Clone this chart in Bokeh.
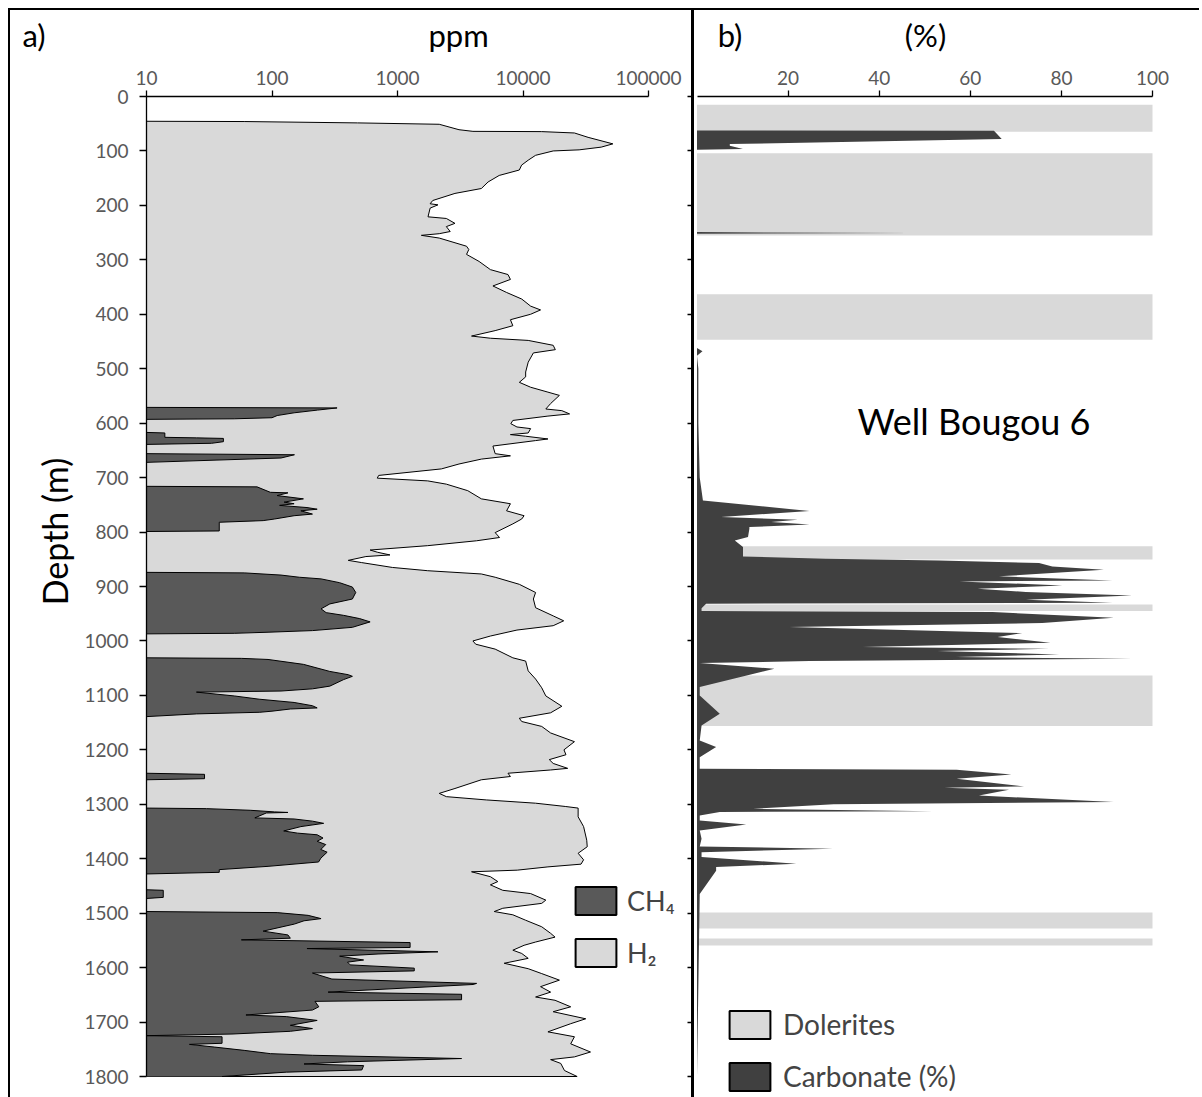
import math
from bokeh.plotting import figure
from bokeh.models import (Range1d, LinearAxis, LogAxis, FixedTicker, Label, Legend, LinearScale,
                          LegendItem, PrintfTickFormatter, ColumnDataSource, CustomLabelingPolicy)
from bokeh.layouts import row
from bokeh.embed import file_html
from bokeh.resources import INLINE

# ---------------- data ----------------
h2_depth = [45.5, 46, 48.5, 51, 61, 64, 64.5, 67, 75, 87, 93, 98, 100, 108, 117, 126, 135, 145, 157, 169,
            178, 191, 197, 199, 205, 221, 224, 233, 239, 248, 252, 255, 260, 275, 281, 290, 303, 318, 327,
            336, 348, 360, 372, 385, 392, 400, 410, 421, 430, 440, 444, 448, 457, 465, 471, 488, 506, 515,
            525, 534, 543, 549, 564, 574, 577, 583, 587, 595, 601, 607, 610, 618, 621, 624, 629, 632, 642,
            656, 660, 666, 675, 684, 696, 701, 706, 712, 724, 739, 748, 761, 770, 776, 785, 801, 810, 816,
            825, 833, 837, 842, 845, 852, 856, 865, 871, 877, 883, 896, 911, 923, 939, 954, 963, 972, 980,
            991, 1000, 1006, 1015, 1031, 1037, 1055, 1070, 1086, 1101, 1120,
            1132, 1142, 1148, 1157, 1169, 1185, 1200, 1209, 1218, 1225, 1234, 1237, 1243, 1249, 1255, 1271,
            1280, 1286, 1292, 1298, 1304, 1307, 1323, 1341, 1366, 1378, 1390, 1402, 1410, 1415, 1421, 1424,
            1433, 1442, 1448, 1458, 1464, 1476, 1482, 1491, 1497, 1503, 1513, 1525, 1537, 1544, 1553, 1559,
            1568, 1574, 1583, 1592, 1602, 1611, 1623, 1635, 1645, 1654, 1660, 1672, 1681, 1694, 1703, 1718,
            1727, 1740, 1755, 1764, 1769, 1776, 1789, 1800, 1800]
h2_ppm = [10, 60, 480, 2150, 3090, 3990, 14100, 25700, 33000, 52000, 42000, 28000, 17400, 12600, 11000,
          9750, 9350, 6460, 5270, 4660, 2870, 1910, 1820, 2100, 1820, 1750, 2450, 2870, 2450, 2630, 2150,
          1550, 2150, 3550, 3700, 3550, 4470, 5500, 7590, 7940, 5760, 7410, 9770, 11500, 13800, 11500, 7940,
          8300, 6000, 3890, 5500, 11000, 17400, 18100, 12100, 11000, 10500, 10500,
          9350, 11500, 15800, 19500, 16600, 15200, 20400, 23500, 15800, 8300, 8000, 8950, 11500, 11000,
          7940, 10500, 15800, 12600, 5760, 6000, 7940, 4660, 3090, 2240, 708, 690, 1740, 2450, 3630, 4660,
          7940, 7400, 10200, 9770, 8300, 6000, 6500, 4270, 1740, 605, 690, 870, 560, 405, 515, 910, 1740,
          4660, 6000, 9350, 12600, 12100, 12600, 17400, 21100, 17400, 8950, 5500, 3990, 4200, 6000, 8300,
          10500, 11000, 12600, 14100, 15200, 20400,
          16600, 9350, 9770, 14100, 16600, 25700, 21200, 22000, 16200, 17400, 22700, 16600, 7590, 7940,
          4660, 2870, 2150, 2450, 5100, 12600, 21700, 27500, 27500, 30400, 32200, 32500, 27500, 30400,
          29000, 15800, 9000, 3890, 5500, 6300, 5500, 6900, 11500, 15200, 14100, 6900, 5900, 8300, 10500,
          14100, 16600, 18000, 12600, 10200, 8300, 9770, 11000, 7080, 11000, 14100, 19500, 13800, 16600,
          12600, 18000, 24000, 17400, 31600, 24000, 15800, 25700, 24000, 34500, 25700, 16600, 20000, 21400,
          27000, 10]

ch4_depth = [0, 571, 572, 576, 581, 586, 590, 592, 593,
             617, 618, 626, 627, 628, 634, 637, 639,
             656, 658, 664, 672,
             716, 717, 727, 728, 733, 739, 745, 748, 751, 755, 758, 761, 767, 770, 776, 779, 782, 798, 799,
             874, 875, 879, 883, 886, 893, 901, 911, 923, 932, 941, 948, 953, 959, 965, 975, 981, 984, 986, 987,
             1031, 1032, 1034, 1043, 1056, 1062, 1065, 1071, 1083, 1088, 1092, 1094, 1101, 1107, 1113, 1119,
             1123, 1125, 1129, 1131, 1134, 1139,
             1243, 1245, 1253, 1255,
             1307, 1308, 1311, 1314, 1315, 1316, 1325, 1327, 1331, 1335, 1341, 1349, 1353, 1356, 1362, 1368,
             1374, 1383, 1388, 1399, 1406, 1414, 1420, 1425, 1428,
             1457, 1458, 1471, 1473,
             1497, 1499, 1504, 1510, 1514, 1520, 1533, 1540, 1546, 1549, 1554, 1563, 1565, 1571, 1575, 1579,
             1586, 1590, 1595, 1601, 1606, 1610, 1621, 1629, 1631, 1645, 1649, 1659, 1662, 1672, 1678, 1687,
             1690, 1697, 1706, 1712, 1717, 1722, 1725,
             1727, 1739, 1741, 1746, 1752, 1758, 1761, 1767, 1773, 1777, 1780, 1788, 1792, 1800]
ch4_ppm = [10, 10, 330, 230, 150, 110, 100, 50, 10,
           10, 14, 14, 25, 41, 41, 33, 10,
           10, 151, 118, 10,
           10, 76, 97, 134, 110, 178, 125, 150, 115, 190, 229, 170, 210, 150, 105, 85, 38, 38, 10,
           10, 60, 118, 165, 246, 346, 437, 465, 437, 289, 246, 270, 372, 500, 605, 437, 210, 93, 50, 10,
           10, 57, 93, 178, 289, 405, 437, 372, 289, 210, 118, 25, 50, 79, 150, 210,
           229, 140, 100, 80, 25, 10,
           10, 29, 29, 10,
           10, 30, 67, 105, 134, 90, 73, 150, 210, 258, 170, 124, 160, 229, 255, 229,
           268, 245, 275, 245, 235, 93, 38, 38, 10,
           10, 13.6, 13.6, 10,
           10, 110, 194, 246, 180, 151, 85, 134, 140, 57, 1260, 1260, 190, 2100, 700, 346,
           537, 400, 420, 1360, 1360, 210, 300, 4270, 4000, 280, 3240, 3240, 220, 236, 210, 62,
           130, 229, 140, 210, 140, 48, 10,
           40, 40, 22, 35, 60, 97, 210, 3240, 400, 180, 537, 520, 130, 40]

dol_top = [15.3, 104.4, 363.2, 826.3, 932.9, 1063.3, 1498.8, 1546.5]
dol_bottom = [64.7, 255.2, 446.9, 850.2, 945.1, 1156.4, 1528.2, 1559.4]

carb_depth = [0, 62.5, 63, 78, 87.3, 90.4, 96.5, 97.7,
              249, 250.9, 252,
              462, 468, 476,
              500, 600, 700, 742,
              761.4, 772.4, 777.3, 781.6, 785.9, 790.8, 793.9, 809.2, 815.3, 827.6, 844.7, 849, 852.1, 857,
              863.1, 869.2, 881.4, 888.8, 890.6, 898, 904.1, 910.2, 916.4, 924.3, 929.8, 931.7, 940, 945,
              947, 957.4, 967.2, 974.5, 985.5, 992.9, 1003.3, 1011.3, 1014.3, 1018.6, 1024.7, 1029.6, 1032.7,
              1037, 1040.7, 1051.1, 1084.8, 1100, 1133.8, 1155.2, 1182.7, 1195, 1213.4, 1234.8,
              1236.6, 1245.2, 1253.2, 1267.2, 1269.7, 1273.4, 1283.8, 1296, 1300, 1308.3, 1312.6, 1314, 1320.5,
              1329.7, 1337, 1348.1, 1363.4, 1377.5, 1381.7, 1387.9, 1397, 1409.3, 1415.4, 1422, 1465, 1800]
carb_pct = [0, 0, 65.2, 66.9, 7.2, 7.2, 10.1, 0,
            0, 47, 0,
            0, 1.2, 0,
            0.3, 0.3, 0.6, 1.3,
            24.7, 5.3, 22.1, 16.3, 24.7, 11.5, 11.5, 11.2, 8.3, 10.1, 10.1, 28.3, 53.2, 75.1,
            78, 89.3, 66.3, 91.2, 57.6, 80.2, 61.6, 72.2, 95.5, 72.2, 91.2, 2, 1, 1,
            64.9, 91.5, 75.8, 20.3, 71.4, 66, 77.6, 36.4, 77.3, 52.8, 79.5, 56.8, 95.5,
            24.7, 0.6, 17, 0.6, 0.6, 5, 1, 0.6, 4.2, 0.6, 0.6,
            57, 69, 57, 71.8, 54.3, 68.5, 61.9, 91.5, 30, 12.3, 51.7, 5, 0.6,
            0.6, 10.8, 0.6, 1, 0.6, 29.8, 1, 1, 21.8, 4.2, 4.2, 0.6, 0]

ppm_ticks = [10, 100, 1000, 10000, 100000]
pct_ticks = [20, 40, 60, 80, 100]
depth_ticks = list(range(0, 1801, 100))

# ---------------- styling / geometry ----------------
FONT = "Lato"
TICK_COLOR = "#595959"
H2_COLOR = "#d9d9d9"
CH4_COLOR = "#595959"
DOL_COLOR = "#d9d9d9"
CARB_COLOR = "#404040"
NAN = float("nan")

CANVAS_H = 1087
A_W, B_W = 684, 505
AXIS_OFFSET = 136          # px from canvas left to the depth axis of panel a
TOP = 86                   # px from canvas top to depth 0
PX_PER_DECADE = 125.5
X_START = 10 ** (1 - AXIS_OFFSET / PX_PER_DECADE)
X_END = 10 ** (1 + (A_W - AXIS_OFFSET) / PX_PER_DECADE)
PX_PER_M = 980 / 1800.0
DEPTH_START = -TOP / PX_PER_M
DEPTH_END = (CANVAS_H - TOP) / PX_PER_M
PX_PER_PCT = 4.555
B_X0 = -2.5 / PX_PER_PCT
B_X1 = B_X0 + B_W / PX_PER_PCT
DEPTH_TITLE_LOC = 10 ** (1 - 63 / PX_PER_DECADE)   # x where the "Depth (m)" text axis sits
TITLE_ROW_LOC = -32 / PX_PER_M                      # depth where the title-row text axes sit

# title-like texts placed as tick labels of extra axes (px from canvas left / depth)
A_LAB = {23.5: "a)", 448: "ppm"}
B_LAB = {35.5: "b)", 231: "(%)"}
DEPTH_LAB = {799: "Depth (m)"}


def style_axis(ax, tick_out=6, standoff=6):
    ax.axis_line_color = "black"
    ax.axis_line_width = 1.3
    ax.major_tick_line_color = "black"
    ax.major_tick_line_width = 1.3
    ax.major_tick_out = tick_out
    ax.major_tick_in = 0
    ax.minor_tick_line_color = None
    ax.major_label_text_color = TICK_COLOR
    ax.major_label_text_font = FONT
    ax.major_label_text_font_size = "19px"
    ax.major_label_standoff = standoff


def text_axis(labels, size, standoff, **kw):
    ticks = sorted(labels)
    ax = LinearAxis(ticker=FixedTicker(ticks=ticks, minor_ticks=[]),
                    major_label_overrides=labels, bounds=(ticks[0], ticks[-1]), **kw)
    ax.axis_line_color = None
    ax.major_tick_line_color = None
    ax.minor_tick_line_color = None
    ax.major_tick_out = 0
    ax.major_tick_in = 0
    ax.major_label_text_color = "black"
    ax.major_label_text_font = FONT
    ax.major_label_text_font_size = size
    ax.major_label_standoff = standoff
    return ax


# ---------------- panel a ----------------
pa = figure(width=A_W, height=CANVAS_H, x_axis_type="log", x_axis_location=None,
            y_axis_location=None,
            x_range=Range1d(X_START, X_END), y_range=Range1d(DEPTH_END, DEPTH_START),
            output_backend="svg", toolbar_location=None,
            min_border_left=0, min_border_right=0, min_border_top=0,
            min_border_bottom=0, styles={"border-right": "3px solid black"})
pa.outline_line_color = None
pa.grid.visible = False
pa.extra_x_ranges = {"lab": Range1d(0, A_W)}
pa.extra_x_scales = {"lab": LinearScale()}

xa = LogAxis(ticker=FixedTicker(ticks=ppm_ticks, minor_ticks=[]),
             formatter=PrintfTickFormatter(format="%d"), bounds=(10, 100000), fixed_location=0)
style_axis(xa, 6, 6)
pa.add_layout(xa, "above")

ya = LinearAxis(ticker=FixedTicker(ticks=depth_ticks, minor_ticks=[]), bounds=(0, 1800),
                fixed_location=10)
style_axis(ya, 7, 11)
pa.add_layout(ya, "left")

pa.add_layout(text_axis(A_LAB, "31px", 11, x_range_name="lab", fixed_location=TITLE_ROW_LOC), "above")
pa.add_layout(text_axis(DEPTH_LAB, "34px", 8, major_label_orientation="parallel",
                        fixed_location=DEPTH_TITLE_LOC), "left")

ra = LinearAxis(ticker=FixedTicker(ticks=depth_ticks, minor_ticks=[]), bounds=(0, 1800))
ra.axis_line_color = None
ra.major_tick_in = 7
ra.major_tick_out = 0
ra.major_tick_line_color = "black"
ra.major_tick_line_width = 1.3
ra.minor_tick_line_color = None
ra.major_label_text_font_size = "0px"
ra.major_label_standoff = 0
ra.major_label_policy = CustomLabelingPolicy(
    code="for (const i of indices) { indices.unset(i) }\nreturn indices")
pa.add_layout(ra, "right")

h2_src = ColumnDataSource(dict(depth=h2_depth, ppm=h2_ppm))
ch4_src = ColumnDataSource(dict(depth=ch4_depth, ppm=ch4_ppm))
pa.harea(x1=10, x2="ppm", y="depth", source=h2_src, fill_color=H2_COLOR)
pa.line(x="ppm", y="depth", source=h2_src, line_color="black", line_width=1)
pa.harea(x1=10, x2="ppm", y="depth", source=ch4_src, fill_color=CH4_COLOR)
pa.line(x="ppm", y="depth", source=ch4_src, line_color="black", line_width=1)

r_ch4 = pa.quad(left=[NAN], right=[NAN], top=[NAN], bottom=[NAN], fill_color=CH4_COLOR,
                line_color="black", line_width=2)
r_h2 = pa.quad(left=[NAN], right=[NAN], top=[NAN], bottom=[NAN], fill_color=H2_COLOR,
               line_color="black", line_width=2)
leg_a = Legend(items=[LegendItem(label="CH\u2084", renderers=[r_ch4]),
                      LegendItem(label="H\u2082", renderers=[r_h2])],
               location=(560, 127), glyph_width=51, glyph_height=35, label_height=28,
               spacing=17, padding=0, margin=0, label_standoff=6,
               border_line_color=None, background_fill_alpha=0,
               label_text_font=FONT, label_text_font_size="27px")
pa.add_layout(leg_a)

# ---------------- panel b ----------------
pb = figure(width=B_W, height=CANVAS_H, x_axis_location=None, y_axis_location=None,
            x_range=Range1d(B_X0, B_X1), y_range=Range1d(DEPTH_END, DEPTH_START),
            output_backend="svg", toolbar_location=None,
            min_border_left=0, min_border_right=0, min_border_top=0, min_border_bottom=0)
pb.outline_line_color = None
pb.grid.visible = False
pb.extra_x_ranges = {"lab": Range1d(0, B_W)}

xb = LinearAxis(ticker=FixedTicker(ticks=pct_ticks, minor_ticks=[]), bounds=(0, 100),
                fixed_location=0)
style_axis(xb, 6, 6)
pb.add_layout(xb, "above")
pb.add_layout(text_axis(B_LAB, "31px", 11, x_range_name="lab", fixed_location=TITLE_ROW_LOC), "above")

pb.quad(left=0, right=100, top=dol_top, bottom=dol_bottom, fill_color=DOL_COLOR, line_color=None)
carb_src = ColumnDataSource(dict(depth=carb_depth, pct=carb_pct))
pb.harea(x1=0, x2="pct", y="depth", source=carb_src, fill_color=CARB_COLOR)

r_dol = pb.quad(left=[NAN], right=[NAN], top=[NAN], bottom=[NAN], fill_color=DOL_COLOR,
                line_color="black", line_width=2)
r_carb = pb.quad(left=[NAN], right=[NAN], top=[NAN], bottom=[NAN], fill_color=CARB_COLOR,
                 line_color="black", line_width=2)
leg_b = Legend(items=[LegendItem(label="Dolerites", renderers=[r_dol]),
                      LegendItem(label="Carbonate (%)", renderers=[r_carb])],
               location=(30, 3.5), glyph_width=51, glyph_height=35, label_height=28,
               spacing=17, padding=0, margin=0, label_standoff=8,
               border_line_color=None, background_fill_alpha=0,
               label_text_font=FONT, label_text_font_size="28px")
pb.add_layout(leg_b)

pb.add_layout(Label(x=163, y=CANVAS_H + 10 - 398, x_units="screen", y_units="screen",
                    text="Well Bougou 6", text_font=FONT, text_font_size="36px",
                    text_color="black", text_baseline="top"))

layout = row(pa, pb, styles={"margin-left": "8px", "margin-top": "8px",
                             "border-left": "2px solid black", "border-top": "2px solid black"})

open("out.html", "w").write(file_html(layout, INLINE))
